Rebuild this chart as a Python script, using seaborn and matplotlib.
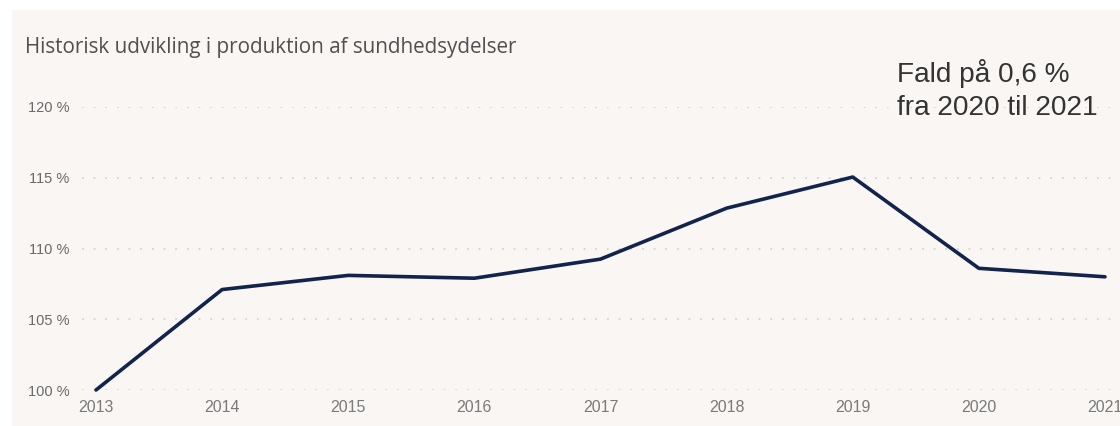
import matplotlib
matplotlib.use("Agg")
import matplotlib.pyplot as plt
import seaborn as sns
import pandas as pd
from matplotlib.patches import Rectangle

years = [2013, 2014, 2015, 2016, 2017, 2018, 2019, 2020, 2021]
index_pct = [100.0, 107.1, 108.1, 107.9, 109.25, 112.85, 115.05, 108.6, 108.0]
y_ticks = [100, 105, 110, 115, 120]
y_tick_labels = ["100 %", "105 %", "110 %", "115 %", "120 %"]
title = "Historisk udvikling i produktion af sundhedsydelser"
note_lines = ["Fald på 0,6 %", "fra 2020 til 2021"]

sns.set_style("white")
plt.rcParams["font.family"] = ["Liberation Sans", "DejaVu Sans"]

W, H = 1120, 426
fig = plt.figure(figsize=(W / 100, H / 100), dpi=100)
fig.patch.set_facecolor("white")
fig.patches.append(Rectangle((12 / W, 0), 1, 1 - 10 / H, transform=fig.transFigure,
                             facecolor="#f9f6f4", edgecolor="none", zorder=-5))

ax = fig.add_axes([82 / W, (H - 390) / H, (W - 82) / W, (390 - 107) / H])
ax.set_facecolor("none")
ax.set_zorder(2)

df = pd.DataFrame({"year": years, "value": index_pct})
sns.lineplot(data=df, x="year", y="value", ax=ax, color="#12234c", linewidth=2.6,
             clip_on=False, zorder=3)

ax.set_xlim(2013 - 14 / 126, 2021 + 15 / 126)
ax.set_ylim(100, 120)
ax.set_yticks(y_ticks)
ax.set_yticklabels(y_tick_labels)
ax.set_xticks(years)
ax.set_xticklabels([str(y) for y in years])
ax.tick_params(axis="y", length=0, pad=9, labelsize=10.5, labelcolor="#6a6a6a")
ax.tick_params(axis="x", length=0, pad=7, labelsize=11.5, labelcolor="#7a7a7a")
ax.set_xlabel("")
ax.set_ylabel("")
ax.grid(axis="y", color="#cfcfcf", linestyle=(0, (1, 6)), linewidth=1.2)
ax.grid(axis="x", visible=False)
for s in ax.spines.values():
    s.set_visible(False)

fig.text(25 / W, 1 - 48 / H, title, fontsize=14.9, color="#505050",
         family=["Open Sans", "DejaVu Sans"], va="center", ha="left")
fig.text(897 / W, 1 - 82 / H, note_lines[0], fontsize=20.2, color="#333333",
         va="baseline", ha="left")
fig.text(897 / W, 1 - 115 / H, note_lines[1], fontsize=20.2, color="#333333",
         va="baseline", ha="left")

fig.savefig("out.png", dpi=100, facecolor=fig.get_facecolor())
